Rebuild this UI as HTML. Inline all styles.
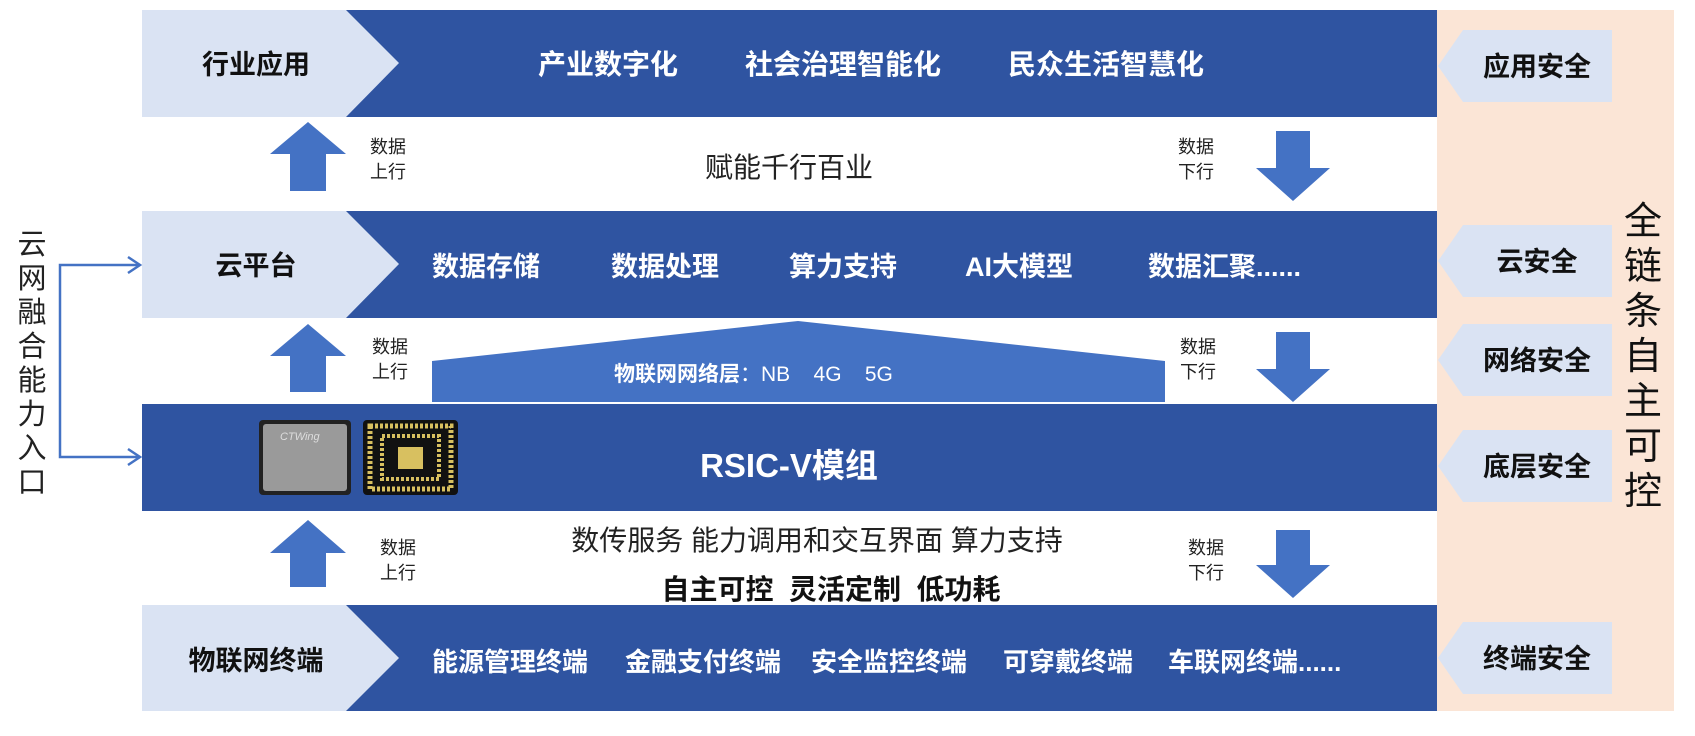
<!DOCTYPE html>
<html><head><meta charset="utf-8"><style>
html,body{margin:0;padding:0;background:#fff;}
svg text{font-family:"Liberation Sans","Noto Sans CJK SC",sans-serif;}
</style></head><body>
<svg width="1695" height="731" viewBox="0 0 1695 731" xmlns="http://www.w3.org/2000/svg">
<rect x="1437" y="10" width="237" height="701" fill="#FBE5D6"/>
<g>
<rect x="142" y="10" width="1295" height="107" fill="#2F54A1"/>
<polygon points="142,10 346,10 399,63 346,117 142,117" fill="#DAE3F3"/>
<rect x="142" y="211" width="1295" height="107" fill="#2F54A1"/>
<polygon points="142,211 346,211 399,264 346,318 142,318" fill="#DAE3F3"/>
<rect x="142" y="404" width="1295" height="107" fill="#2F54A1"/>
<rect x="142" y="605" width="1295" height="106" fill="#2F54A1"/>
<polygon points="142,605 346,605 399,658 346,711 142,711" fill="#DAE3F3"/>
</g>
<polygon points="432,402 432,361 798,321 1165,361 1165,402" fill="#4472C4"/>
<g fill="#DAE3F3">
<polygon points="1438,66 1463,30 1612,30 1612,102 1463,102"/>
<polygon points="1438,261 1463,225 1612,225 1612,297 1463,297"/>
<polygon points="1438,360 1463,324 1612,324 1612,396 1463,396"/>
<polygon points="1438,466 1463,430 1612,430 1612,502 1463,502"/>
<polygon points="1438,658 1463,622 1612,622 1612,694 1463,694"/>
</g>
<g font-size="27" font-weight="bold" fill="#111" text-anchor="middle">
<text x="1537" y="76">应用安全</text>
<text x="1537" y="271">云安全</text>
<text x="1537" y="370">网络安全</text>
<text x="1537" y="476">底层安全</text>
<text x="1537" y="668">终端安全</text>
</g>
<g font-size="38" fill="#111" text-anchor="middle">
<text x="1643" y="234">全</text><text x="1643" y="279">链</text><text x="1643" y="324">条</text><text x="1643" y="369">自</text><text x="1643" y="414">主</text><text x="1643" y="459">可</text><text x="1643" y="504">控</text>
</g>
<g font-size="29" fill="#222" text-anchor="middle">
<text x="32" y="254">云</text><text x="32" y="288">网</text><text x="32" y="322">融</text><text x="32" y="356">合</text><text x="32" y="390">能</text><text x="32" y="424">力</text><text x="32" y="458">入</text><text x="32" y="492">口</text>
</g>
<g stroke="#4472C4" stroke-width="2.5" fill="none">
<polyline points="140,265 60,265 60,457 140,457"/>
<polyline points="128,257 140,265 128,273"/>
<polyline points="128,449 140,457 128,465"/>
</g>
<g fill="#4472C4">
<polygon points="308,122 346,154 326,154 326,191 290,191 290,154 270,154"/>
<polygon points="308,324 346,356 326,356 326,392 290,392 290,356 270,356"/>
<polygon points="308,520 346,553 326,553 326,587 290,587 290,553 270,553"/>
<polygon points="1293,201 1330,168 1310,168 1310,131 1276,131 1276,168 1256,168"/>
<polygon points="1293,402 1330,369 1310,369 1310,332 1276,332 1276,369 1256,369"/>
<polygon points="1293,598 1330,565 1310,565 1310,530 1276,530 1276,565 1256,565"/>
</g>
<g font-size="18" fill="#222">
<text x="370" y="153">数据</text><text x="370" y="178">上行</text>
<text x="372" y="353">数据</text><text x="372" y="378">上行</text>
<text x="380" y="554">数据</text><text x="380" y="579">上行</text>
<text x="1178" y="153">数据</text><text x="1178" y="178">下行</text>
<text x="1180" y="353">数据</text><text x="1180" y="378">下行</text>
<text x="1188" y="554">数据</text><text x="1188" y="579">下行</text>
</g>
<g font-size="27" font-weight="bold" fill="#111" text-anchor="middle">
<text x="256" y="74">行业应用</text>
<text x="256" y="275">云平台</text>
<text x="256" y="670">物联网终端</text>
</g>
<g font-size="28" font-weight="bold" fill="#fff">
<text x="538" y="74">产业数字化</text>
<text x="745" y="74">社会治理智能化</text>
<text x="1008" y="74">民众生活智慧化</text>
<text x="432" y="276" font-size="27">数据存储</text>
<text x="611" y="276" font-size="27">数据处理</text>
<text x="789" y="276" font-size="27">算力支持</text>
<text x="965" y="276" font-size="27">AI大模型</text>
<text x="1148" y="276" font-size="27">数据汇聚......</text>
<text x="432" y="671" font-size="26">能源管理终端</text>
<text x="625" y="671" font-size="26">金融支付终端</text>
<text x="811" y="671" font-size="26">安全监控终端</text>
<text x="1003" y="671" font-size="26">可穿戴终端</text>
<text x="1168" y="671" font-size="26">车联网终端......</text>
<text x="789" y="477" font-size="33" text-anchor="middle">RSIC-V模组</text>
</g>
<text x="614" y="381" font-size="21" font-weight="bold" fill="#fff">物联网网络层<tspan font-weight="normal">：NB&#160;&#160;&#160;&#160;4G&#160;&#160;&#160;&#160;5G</tspan></text>
<text x="789" y="177" font-size="28" fill="#222" text-anchor="middle">赋能千行百业</text>
<text x="817" y="550" font-size="28" fill="#222" text-anchor="middle">数传服务 能力调用和交互界面 算力支持</text>
<text x="831" y="599" font-size="28" font-weight="bold" fill="#111" text-anchor="middle">自主可控&#160;&#160;灵活定制&#160;&#160;低功耗</text>
<rect x="259" y="420" width="92" height="75" rx="4" fill="#222"/>
<rect x="263" y="424" width="84" height="67" rx="3" fill="#9a9a9a"/>
<text x="280" y="440" font-size="11" fill="#ddd" font-style="italic">CTWing</text>
<rect x="363" y="420" width="95" height="75" rx="4" fill="#111"/>
<rect x="370" y="426" width="81" height="63" fill="none" stroke="#d8c060" stroke-width="5" stroke-dasharray="3 2"/>
<rect x="382" y="436" width="57" height="43" fill="none" stroke="#d8c060" stroke-width="4" stroke-dasharray="3 2"/>
<rect x="398" y="447" width="25" height="22" fill="#d8c060"/>
</svg>
</body></html>
